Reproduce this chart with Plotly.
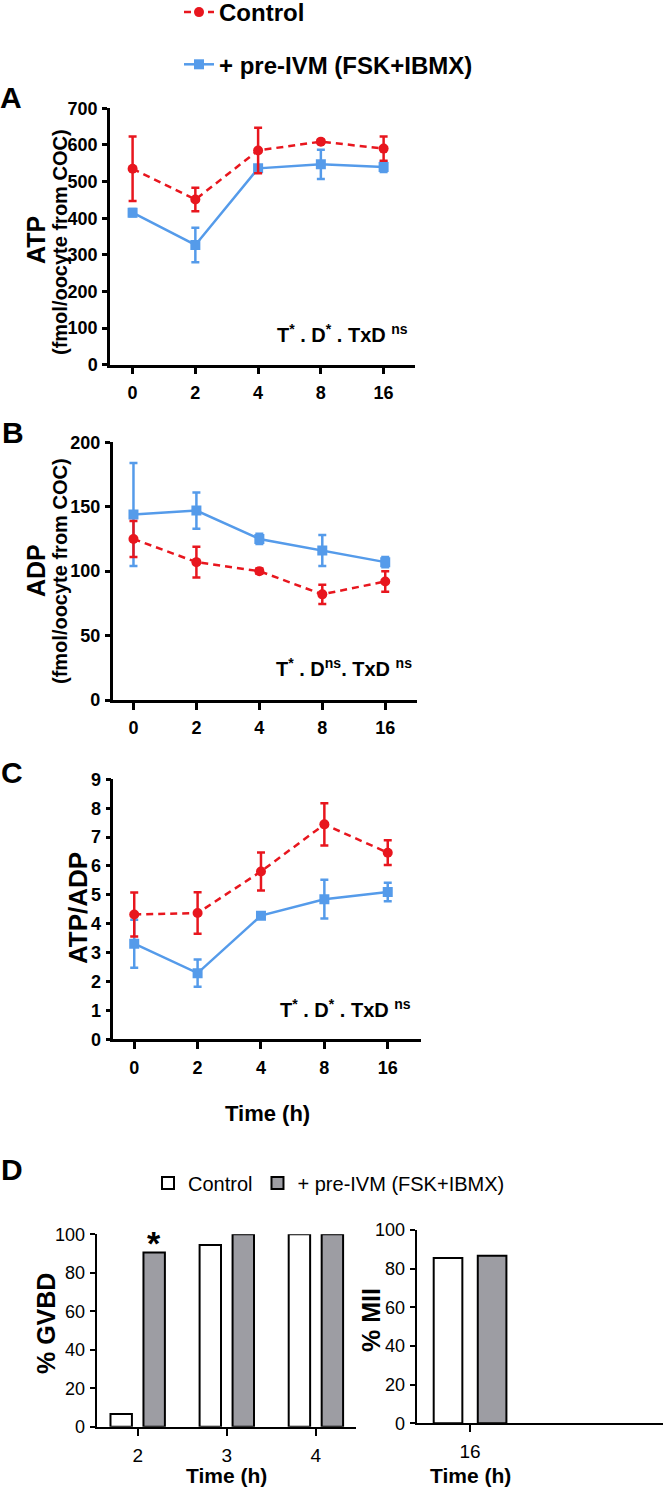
import plotly.graph_objects as go

# ---------------- data ----------------
times = ["0", "2", "4", "8", "16"]

atp_ctrl = [535, 451, 585, 609, 590]
atp_ctrl_err = [88, 32, 62, 5, 33]
atp_pre = [415, 327, 536, 547, 540]
atp_pre_err = [10, 47, 7, 40, 14]

adp_ctrl = [125, 107, 100, 82, 92]
adp_ctrl_err = [14, 12, 2, 7.5, 8]
adp_pre = [144, 147, 125, 116, 107]
adp_pre_err = [40, 14, 4, 12, 4]

ratio_ctrl = [4.32, 4.37, 5.81, 7.44, 6.46]
ratio_ctrl_err = [0.76, 0.72, 0.66, 0.73, 0.43]
ratio_pre = [3.31, 2.29, 4.28, 4.85, 5.10]
ratio_pre_err = [0.83, 0.47, 0.1, 0.67, 0.32]

gvbd_times = ["2", "3", "4"]
gvbd_ctrl = [6.6, 94.5, 100]
gvbd_pre = [90.6, 100, 100]
gvbd_sig = ["*", "", ""]

mii_times = ["16"]
mii_ctrl = [85.5]
mii_pre = [86.7]

series_names = ["Control", "+ pre-IVM (FSK+IBMX)"]
stats_text = [
    "T<sup>*</sup> . D<sup>*</sup> . TxD <sup>ns</sup>",
    "T<sup>*</sup> . D<sup>ns</sup>. TxD <sup>ns</sup>",
    "T<sup>*</sup> . D<sup>*</sup> . TxD <sup>ns</sup>",
]

# ---------------- style ----------------
W, H = 663, 1490
RED = "#E8161E"
BLUE = "#559BEA"
GRAY = "#9D9DA3"
FONT = "Liberation Sans, Arial, sans-serif"


def xd(a, b):
    return [a / W, b / W]


def yd(top, bottom):
    return [1 - bottom / H, 1 - top / H]


fig = go.Figure()


def add_pair(xa, ya, ctrl, ctrl_err, pre, pre_err, show):
    fig.add_trace(go.Scatter(
        x=times, y=pre, name=series_names[1], mode="lines+markers",
        xaxis=xa, yaxis=ya, legendgroup="b", legendrank=2, showlegend=show, legend="legend",
        line=dict(color=BLUE, width=2.5),
        marker=dict(symbol="square", size=10, color=BLUE),
        error_y=dict(type="data", array=pre_err, color=BLUE, thickness=2.5, width=4),
    ))
    fig.add_trace(go.Scatter(
        x=times, y=ctrl, name=series_names[0], mode="lines+markers",
        xaxis=xa, yaxis=ya, legendgroup="a", legendrank=1, showlegend=show, legend="legend",
        line=dict(color=RED, width=2.5, dash="7px,5px"),
        marker=dict(symbol="circle", size=10, color=RED),
        error_y=dict(type="data", array=ctrl_err, color=RED, thickness=2.5, width=4),
    ))


add_pair("x", "y", atp_ctrl, atp_ctrl_err, atp_pre, atp_pre_err, True)
add_pair("x2", "y2", adp_ctrl, adp_ctrl_err, adp_pre, adp_pre_err, False)
add_pair("x3", "y3", ratio_ctrl, ratio_ctrl_err, ratio_pre, ratio_pre_err, False)

# bars
fig.add_trace(go.Bar(x=gvbd_times, y=gvbd_ctrl, name=series_names[0], xaxis="x4", yaxis="y4",
                     marker=dict(color="white", line=dict(color="black", width=2)),
                     legend="legend2", showlegend=True))
fig.add_trace(go.Bar(x=gvbd_times, y=gvbd_pre, name=series_names[1], xaxis="x4", yaxis="y4",
                     marker=dict(color=GRAY, line=dict(color="black", width=2)),
                     legend="legend2", showlegend=True))
fig.add_trace(go.Bar(x=mii_times, y=mii_ctrl, name=series_names[0], xaxis="x5", yaxis="y5",
                     marker=dict(color="white", line=dict(color="black", width=2)),
                     showlegend=False))
fig.add_trace(go.Bar(x=mii_times, y=mii_pre, name=series_names[1], xaxis="x5", yaxis="y5",
                     marker=dict(color=GRAY, line=dict(color="black", width=2)),
                     showlegend=False))

bold_tick = dict(family=FONT, size=18, color="black", weight="bold")
reg_tick = dict(family=FONT, size=18, color="black")


def xaxis_style(domain, rng, anchor, font, lw=2.5):
    return dict(domain=domain, range=rng, type="category", anchor=anchor,
                showline=True, linecolor="black", linewidth=lw, ticks="outside",
                ticklen=7, tickwidth=lw, tickcolor="black", showgrid=False,
                zeroline=False, tickfont=font, ticklabelstandoff=3, fixedrange=True)


def yaxis_style(domain, rng, dtick, anchor, font, lw=2.5):
    return dict(domain=domain, range=rng, dtick=dtick, tick0=0, anchor=anchor,
                showline=True, linecolor="black", linewidth=lw, ticks="outside",
                ticklen=5, tickwidth=lw, tickcolor="black", showgrid=False,
                zeroline=False, tickfont=font, ticklabelstandoff=1, fixedrange=True)


fig.update_layout(
    width=W, height=H, margin=dict(l=0, r=0, t=0, b=0, autoexpand=False),
    paper_bgcolor="white", plot_bgcolor="white",
    font=dict(family=FONT, color="black"),
    barmode="group", bargap=0.26, bargroupgap=0.35,
    xaxis=xaxis_style(xd(110, 415), [-0.36, 4.5], "y", bold_tick),
    yaxis=yaxis_style(yd(108.3, 364.7), [0, 700], 100, "x", bold_tick),
    xaxis2=xaxis_style(xd(112.7, 416.7), [-0.33, 4.5], "y2", bold_tick),
    yaxis2=yaxis_style(yd(442.3, 700), [0, 200], 50, "x2", bold_tick),
    xaxis3=xaxis_style(xd(113.3, 420.7), [-0.33, 4.52], "y3", bold_tick),
    yaxis3=yaxis_style(yd(779.3, 1039.3), [0, 9], 1, "x3", bold_tick),
    xaxis4=xaxis_style(xd(96.7, 356), [-0.46, 2.45], "y4", dict(family=FONT, size=19, color="black"), lw=2),
    yaxis4=yaxis_style(yd(1234.3, 1426.7), [0, 100], 20, "x4", reg_tick, lw=2),
    xaxis5=xaxis_style(xd(416.7, 663), [-0.448, 1.62], "y5", dict(family=FONT, size=19, color="black"), lw=2),
    yaxis5=yaxis_style(yd(1230, 1423.3), [0, 100], 20, "x5", reg_tick, lw=2),
    legend=dict(x=179 / W, y=1 + 10 / H, xanchor="left", yanchor="top",
                font=dict(family=FONT, size=24, color="black", weight="bold"),
                bgcolor="rgba(0,0,0,0)", traceorder="grouped", tracegroupgap=18,
                itemwidth=30),
    legend2=dict(x=148 / W, y=1 - 1183 / H, xanchor="left", yanchor="middle",
                 orientation="h", font=dict(family=FONT, size=20, color="black"),
                 bgcolor="rgba(0,0,0,0)", itemwidth=30),
)

ann = []


def label(text, x, y, size, angle=0, weight="bold", xanchor="center"):
    ann.append(dict(text=text, x=x / W, y=1 - y / H, xref="paper", yref="paper",
                    showarrow=False, textangle=angle, xanchor=xanchor, yanchor="middle",
                    font=dict(family=FONT, size=size, color="black", weight=weight)))


# panel letters
label("A", 11, 97, 30)
label("B", 13, 432, 30)
label("C", 12, 772, 30)
label("D", 12, 1169, 30)

# y titles
label("ATP", 36, 240, 25, angle=-90)
label("(fmol/oocyte from COC)", 60, 242, 20, angle=-90)
label("ADP", 36, 571, 25, angle=-90)
label("(fmol/oocyte from COC)", 60, 571, 20, angle=-90)
label("ATP/ADP", 78, 908, 26, angle=-90)
label("% GVBD", 46, 1324, 25, angle=-90, weight="bold")
label("% MII", 371, 1320, 25, angle=-90, weight="bold")

# x titles
label("Time (h)", 267, 1113, 22)
label("Time (h)", 226, 1475, 21)
label("Time (h)", 470, 1475, 21)

# stats annotations
label(stats_text[0], 410, 334, 20, xanchor="right")
label(stats_text[1], 414, 668, 20, xanchor="right")
label(stats_text[2], 413, 1008, 20, xanchor="right")

# significance marks on the pre-IVM bars
for i, s in enumerate(gvbd_sig):
    if s:
        ann.append(dict(text=s, x=i, y=gvbd_pre[i], xref="x4", yref="y4",
                        xshift=16.5, yshift=-12, showarrow=False, yanchor="bottom",
                        font=dict(family=FONT, size=34, color="black", weight="bold")))

fig.update_layout(annotations=ann)

fig.write_html("out.html", config={"displayModeBar": False},
               post_script="document.body.style.margin='0px';")
